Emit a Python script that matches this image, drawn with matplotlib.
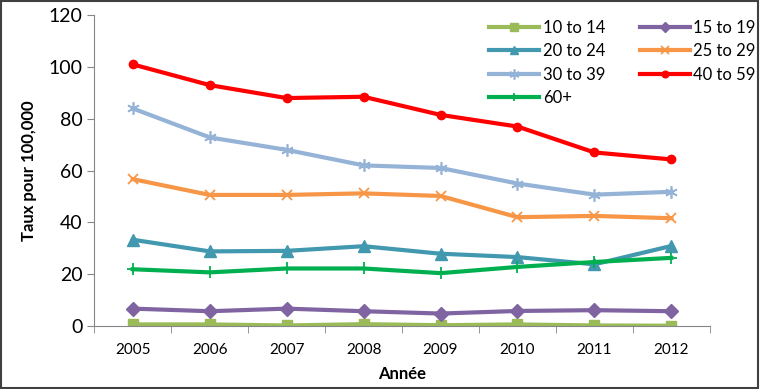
import numpy as np
import matplotlib
matplotlib.use("Agg")
import matplotlib.pyplot as plt

plt.rcParams['font.family'] = ['Lato', 'DejaVu Sans']

years = ['2005', '2006', '2007', '2008', '2009', '2010', '2011', '2012']

age_10_14 = [0.6, 0.6, 0.2, 0.7, 0.3, 0.6, 0.2, 0.1]
age_15_19 = [6.7, 5.7, 6.7, 5.7, 4.8, 5.8, 6.1, 5.7]
age_20_24 = [33.3, 28.8, 29.0, 30.8, 27.9, 26.6, 23.8, 30.9]
age_25_29 = [56.7, 50.6, 50.6, 51.2, 50.2, 42.0, 42.5, 41.6]
age_30_39 = [84.0, 72.8, 68.0, 62.0, 61.0, 55.0, 50.7, 51.8]
age_40_59 = [101.0, 93.0, 88.0, 88.5, 81.5, 77.0, 67.0, 64.3]
age_60p = [21.9, 20.7, 22.2, 22.2, 20.4, 22.8, 24.7, 26.3]

series = [
    ('10 to 14', age_10_14, '#9BBB59', 's', 7),
    ('15 to 19', age_15_19, '#8064A2', 'D', 7),
    ('20 to 24', age_20_24, '#4198AF', '^', 8),
    ('25 to 29', age_25_29, '#F79646', 'x', 7),
    ('30 to 39', age_30_39, '#95B3D7', '*', 0),
    ('40 to 59', age_40_59, '#FF0000', 'o', 6),
    ('60+', age_60p, '#00B050', '+', 8),
]

fig = plt.figure(figsize=(7.6, 3.89), dpi=100)
ax = fig.add_axes([0.124, 0.162, 0.81, 0.799])

x = np.arange(len(years))
handles = []
for label, vals, color, marker, ms in series:
    if marker == '*':
        h, = ax.plot(x, vals, color=color, lw=3, label=label, marker=(6, 2, 0),
                     ms=9, mew=1.2, mec=color)
    elif marker in ('x', '+'):
        h, = ax.plot(x, vals, color=color, lw=3, label=label, marker=marker,
                     ms=ms, mew=1.3)
    else:
        h, = ax.plot(x, vals, color=color, lw=3, label=label, marker=marker,
                     ms=ms, mec=color)
    handles.append(h)

ax.set_xlim(-0.5, 7.5)
ax.set_ylim(0, 120)
ax.set_yticks(range(0, 121, 20))
ax.set_xticks(x)
ax.set_xticklabels(years, fontsize=11)
ax.set_xticks(np.arange(-0.5, 8, 1), minor=True)
ax.tick_params(axis='x', which='major', length=0, pad=12)
ax.tick_params(axis='x', which='minor', length=5, color='#868686')
ax.tick_params(axis='y', labelsize=14, length=5, color='#868686')

for s in ['top', 'right']:
    ax.spines[s].set_visible(False)
for s in ['left', 'bottom']:
    ax.spines[s].set_color('#868686')

ax.set_ylabel('Taux pour 100,000', fontsize=12, fontweight='bold', labelpad=8)
ax.set_xlabel('Année', fontsize=12, fontweight='bold', labelpad=7)

# row-major legend order like the original
order = [0, 2, 4, 6, 1, 3, 5]
ax.legend([handles[i] for i in order], [series[i][0] for i in order],
          ncol=2, frameon=False, fontsize=12, loc='upper left',
          bbox_to_anchor=(0.631, 1.007), handlelength=3.0, columnspacing=2.1,
          labelspacing=0.45, handletextpad=0.2, borderaxespad=0,
          markerscale=0.8)

fig.patches.append(plt.Rectangle((0.001, 0.002), 0.997, 0.996, fill=False,
                                 edgecolor='#404040', lw=1.5,
                                 transform=fig.transFigure))

fig.savefig('out.png', dpi=100)
